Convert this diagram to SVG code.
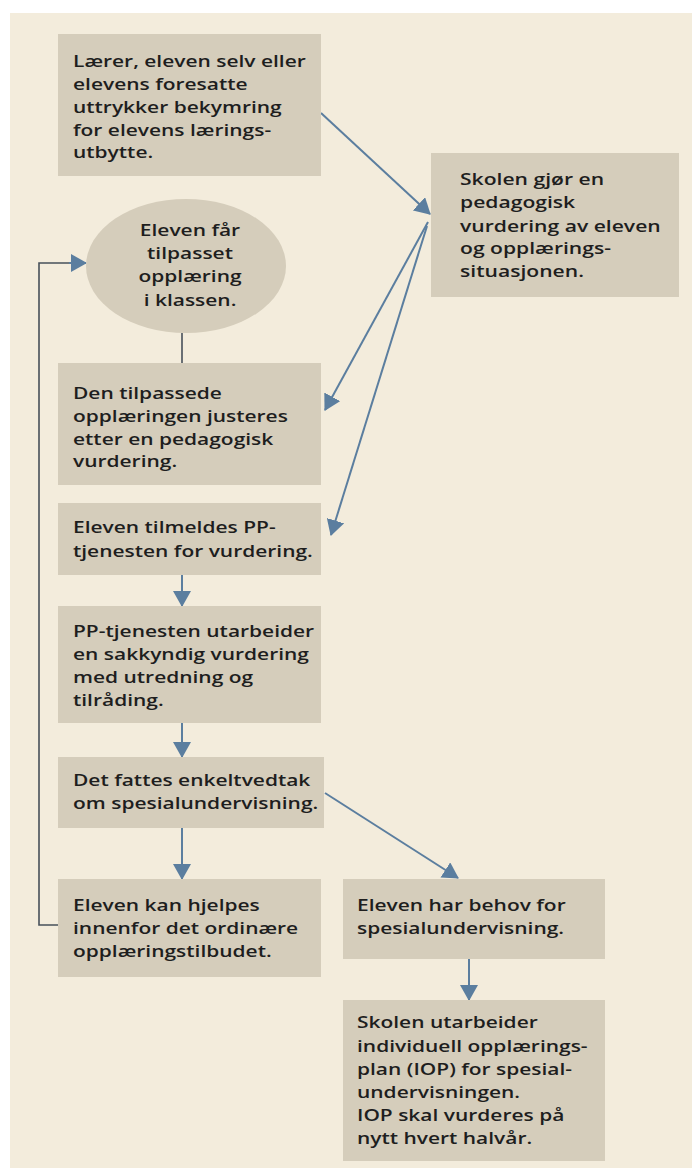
<svg xmlns="http://www.w3.org/2000/svg" width="692" height="1174" viewBox="0 0 692 1174">
<defs>
<style>
.bg{fill:#f3ecdc}
.box{fill:#d5cdbb}
.t{font-family:"Open Sans","Liberation Sans",sans-serif;font-weight:600;font-size:16.5px;fill:#1e1e1e}
.c{text-anchor:middle}
.arr{stroke:#5b7e9f;stroke-width:2;fill:none;marker-end:url(#ah)}
.ln{stroke:#47505a;stroke-width:1.6;fill:none}
</style>
<marker id="ah" markerUnits="userSpaceOnUse" viewBox="0 0 16 18" markerWidth="16" markerHeight="18" refX="15" refY="9" orient="auto">
<path d="M0,0 L16,9 L0,18 z" fill="#5b7e9f"/>
</marker>
</defs>
<rect width="692" height="1174" fill="#ffffff"/>
<rect class="bg" x="10" y="13" width="682" height="1155"/>
<g id="connectors">
<line class="arr" x1="321" y1="113" x2="430" y2="214"/>
<line class="arr" x1="428" y1="222" x2="325" y2="410"/>
<line class="arr" x1="427" y1="226" x2="331" y2="535"/>
<line class="ln" x1="182" y1="333" x2="182" y2="363"/>
<line class="arr" x1="182" y1="575" x2="182" y2="606"/>
<line class="arr" x1="182" y1="723" x2="182" y2="757"/>
<line class="arr" x1="182" y1="828" x2="182" y2="879"/>
<line class="arr" x1="325" y1="793" x2="458" y2="878"/>
<line class="arr" x1="469" y1="959" x2="469" y2="1000"/>
<polyline class="ln" points="58,925 39,925 39,263 70,263"/>
<line class="arr" x1="69" y1="263" x2="86" y2="263"/>
</g>
<g id="n1">
<rect class="box" x="58" y="34" width="263" height="142"/>
<g transform="translate(73,0) scale(1.27,1)">
<text class="t" x="0" y="67">Lærer, eleven selv eller</text>
<text class="t" x="0" y="90">elevens foresatte</text>
<text class="t" x="0" y="113">uttrykker bekymring</text>
<text class="t" x="0" y="136">for elevens lærings-</text>
<text class="t" x="0" y="158">utbytte.</text>
</g>
</g>
<g id="n2">
<rect class="box" x="431" y="153" width="248" height="144"/>
<g transform="translate(460,0) scale(1.28,1)">
<text class="t" x="0" y="185">Skolen gjør en</text>
<text class="t" x="0" y="208">pedagogisk</text>
<text class="t" x="0" y="232">vurdering av eleven</text>
<text class="t" x="0" y="254">og opplærings-</text>
<text class="t" x="0" y="277">situasjonen.</text>
</g>
</g>
<g id="n3">
<ellipse class="box" cx="186" cy="266" rx="100" ry="67"/>
<g transform="translate(190,0) scale(1.27,1)">
<text class="t c" x="0" y="236">Eleven får</text>
<text class="t c" x="0" y="259">tilpasset</text>
<text class="t c" x="0" y="282">opplæring</text>
<text class="t c" x="0" y="306">i klassen.</text>
</g>
</g>
<g id="n4">
<rect class="box" x="58" y="363" width="263" height="122"/>
<g transform="translate(73,0) scale(1.27,1)">
<text class="t" x="0" y="399">Den tilpassede</text>
<text class="t" x="0" y="422">opplæringen justeres</text>
<text class="t" x="0" y="445">etter en pedagogisk</text>
<text class="t" x="0" y="467">vurdering.</text>
</g>
</g>
<g id="n5">
<rect class="box" x="58" y="503" width="263" height="72"/>
<g transform="translate(73,0) scale(1.27,1)">
<text class="t" x="0" y="533">Eleven tilmeldes PP-</text>
<text class="t" x="0" y="557">tjenesten for vurdering.</text>
</g>
</g>
<g id="n6">
<rect class="box" x="58" y="606" width="263" height="117"/>
<g transform="translate(73,0) scale(1.27,1)">
<text class="t" x="0" y="637">PP-tjenesten utarbeider</text>
<text class="t" x="0" y="660">en sakkyndig vurdering</text>
<text class="t" x="0" y="683">med utredning og</text>
<text class="t" x="0" y="706">tilråding.</text>
</g>
</g>
<g id="n7">
<rect class="box" x="58" y="757" width="266" height="71"/>
<g transform="translate(73,0) scale(1.27,1)">
<text class="t" x="0" y="786">Det fattes enkeltvedtak</text>
<text class="t" x="0" y="809">om spesialundervisning.</text>
</g>
</g>
<g id="n8">
<rect class="box" x="58" y="879" width="263" height="98"/>
<g transform="translate(73,0) scale(1.27,1)">
<text class="t" x="0" y="911">Eleven kan hjelpes</text>
<text class="t" x="0" y="934">innenfor det ordinære</text>
<text class="t" x="0" y="957">opplæringstilbudet.</text>
</g>
</g>
<g id="n9">
<rect class="box" x="343" y="879" width="262" height="80"/>
<g transform="translate(357,0) scale(1.27,1)">
<text class="t" x="0" y="911">Eleven har behov for</text>
<text class="t" x="0" y="934">spesialundervisning.</text>
</g>
</g>
<g id="n10">
<rect class="box" x="343" y="1000" width="262" height="161"/>
<g transform="translate(357,0) scale(1.27,1)">
<text class="t" x="0" y="1028">Skolen utarbeider</text>
<text class="t" x="0" y="1052">individuell opplærings-</text>
<text class="t" x="0" y="1075">plan (IOP) for spesial-</text>
<text class="t" x="0" y="1098">undervisningen.</text>
<text class="t" x="0" y="1121">IOP skal vurderes på</text>
<text class="t" x="0" y="1144">nytt hvert halvår.</text>
</g>
</g>
</svg>
